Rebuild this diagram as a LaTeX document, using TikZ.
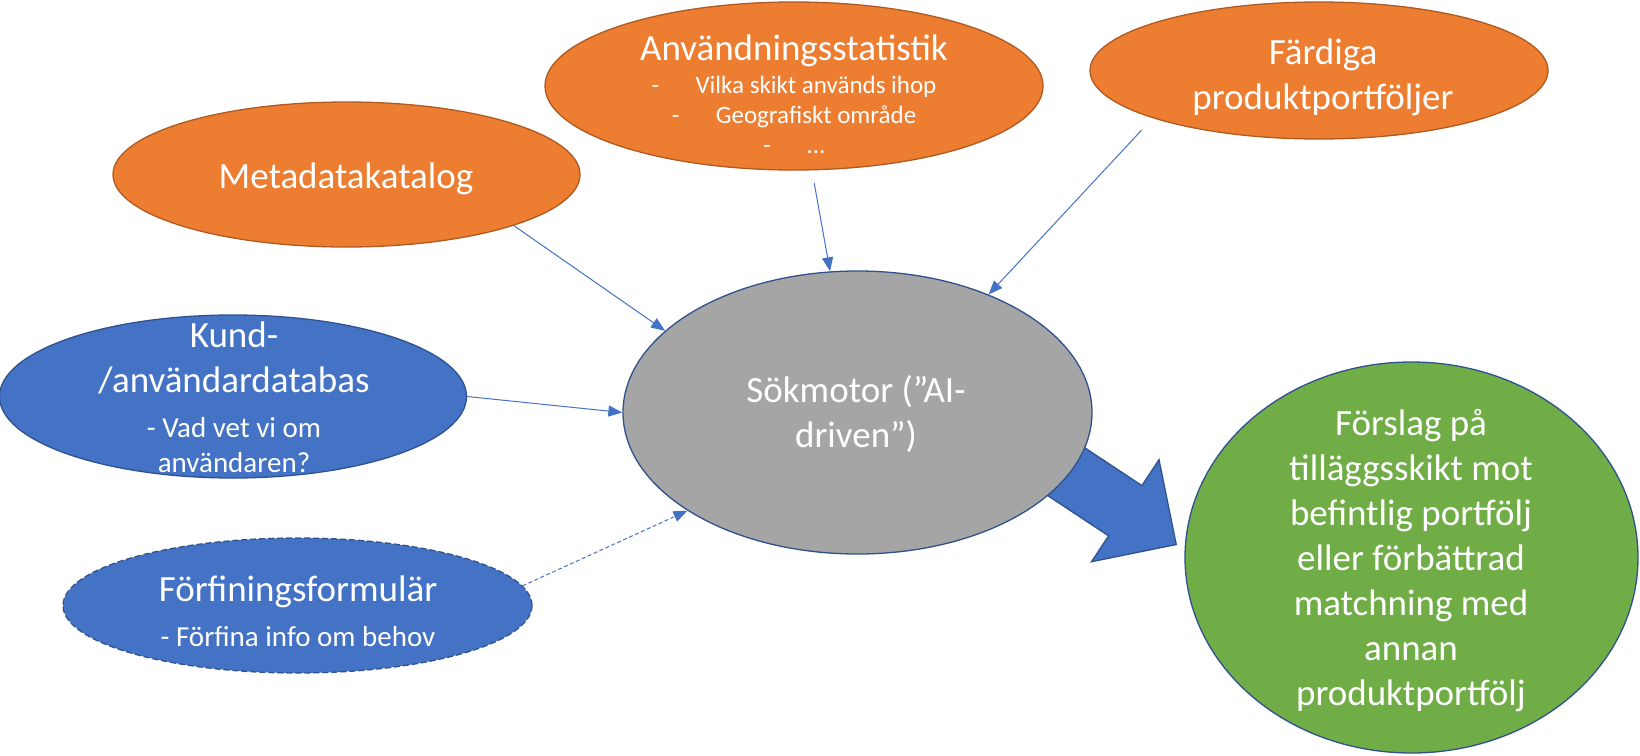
\documentclass[tikz,border=0pt]{standalone}
\usepackage{fontspec}
\setmainfont{Carlito}
\usetikzlibrary{shapes.geometric,shapes.arrows,arrows.meta}

\definecolor{kOrange}{HTML}{ED7D31}
\definecolor{kOrangeLine}{HTML}{AE5A21}
\definecolor{kBlue}{HTML}{4472C4}
\definecolor{kBlueLine}{HTML}{2F528F}
\definecolor{kGray}{HTML}{A5A5A5}
\definecolor{kGreen}{HTML}{70AD47}

\newcommand{\subtxt}{\fontsize{25}{30}\selectfont}
\newcommand{\midtxt}{\fontsize{29}{35}\selectfont}
\newcommand{\dashline}[1]{\makebox[44pt][l]{-}#1}

\begin{document}
\begin{tikzpicture}[x=1pt,y=-1pt,
  bubble/.style={ellipse,inner sep=0pt,line width=1.3pt},
  orangebubble/.style={bubble,fill=kOrange,draw=kOrangeLine},
  bluebubble/.style={bubble,fill=kBlue,draw=kBlueLine},
  bubbletext/.style={text=white,align=center,inner sep=0pt,font=\fontsize{37}{45}\selectfont},
  conn/.style={draw=kBlue,line width=1pt,-{Triangle[length=14pt,width=11pt]}},
  bigarrow/.style={single arrow,fill=kBlue,draw=kBlueLine,line width=1.3pt,
    inner xsep=0pt,inner ysep=29.5pt,single arrow head extend=31pt,minimum height=210pt}]
\useasboundingbox (0,0) rectangle (1640,755);
\fill[white] (0,0) rectangle (1640,755);

% fat arrow first, so the search engine covers its tail
\coordinate (spets) at (1177,545);
\node[bigarrow,anchor=tip,rotate=-33.5] (pil) at (spets) {};

\node[orangebubble,minimum width=467pt,minimum height=145pt] (meta) at (346.5,174.5) {};
\node[orangebubble,minimum width=498pt,minimum height=168pt] (anv) at (794,86) {};
\node[orangebubble,minimum width=458pt,minimum height=137pt] (fard) at (1319,70.5) {};
\node[bluebubble,minimum width=467pt,minimum height=163pt] (kund) at (233,396.5) {};
\node[bluebubble,dash pattern=on 6pt off 3pt,minimum width=469pt,minimum height=135pt] (forf) at (297.5,605.5) {};
\node[bubble,fill=kGray,draw=kBlueLine,minimum width=469pt,minimum height=283pt] (sok) at (857.5,412.5) {};
\node[bubble,fill=kGreen,draw=kBlueLine,minimum width=453pt,minimum height=391pt] (forslag) at (1411.5,557.5) {};

\node[bubbletext] (meta-txt) at (346,179) {Metadatakatalog};
\node[bubbletext,font=\subtxt] (anv-txt) at (794,94)
  {{\fontsize{37}{45}\selectfont Användningsstatistik}\\[3pt]
   \dashline{Vilka skikt används ihop}\\
   \dashline{Geografiskt område}\\
   \dashline{…}};
\node[bubbletext] (fard-txt) at (1323,77) {Färdiga\\produktportföljer};
\node[bubbletext] (kund-txt) at (234,397)
  {Kund-\\/användardatabas\\{\midtxt - Vad vet vi om}\\[-10pt]{\midtxt användaren?}};
\node[bubbletext] (forf-txt) at (298,611)
  {Förfiningsformulär\\{\midtxt - Förfina info om behov}};
\node[bubbletext] (sok-txt) at (856,414) {Sökmotor (”AI-\\driven”)};
\node[bubbletext] (forslag-txt) at (1411,561)
  {Förslag på\\tilläggsskikt mot\\befintlig portfölj\\eller förbättrad\\matchning med\\annan\\produktportfölj};

\draw[conn] (meta.-17.8) -- (sok.157.4);
\draw[conn,shorten <=13pt] (anv.-78.3) -- (sok.101.9);
\draw[conn,shorten <=16pt] (fard.196) -- (sok.42);
\draw[conn] (kund.0) -- (sok.180);
\draw[conn,dash pattern=on 4pt off 2.5pt] (forf.5.9) -- (sok.210.2);
\end{tikzpicture}
\end{document}
